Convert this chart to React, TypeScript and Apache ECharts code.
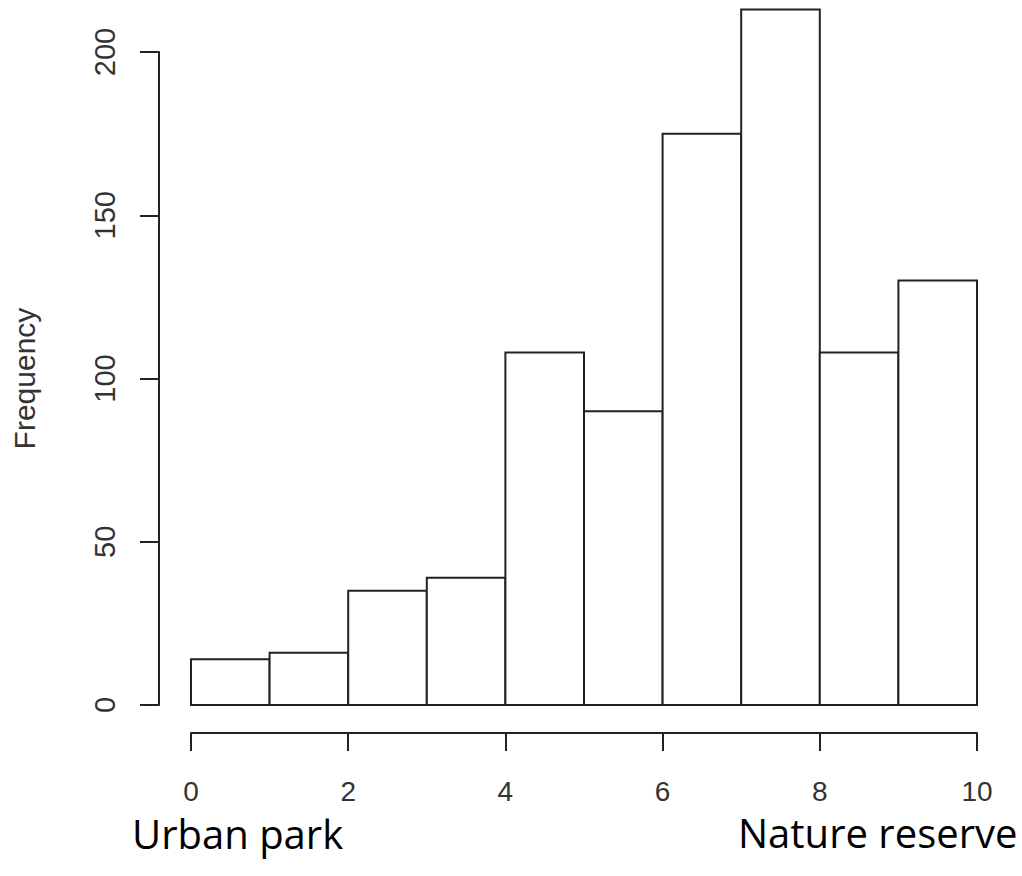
import React, { useEffect, useRef } from "react";
import * as echarts from "echarts";

const binStarts = [0, 1, 2, 3, 4, 5, 6, 7, 8, 9];
const binEnds = [1, 2, 3, 4, 5, 6, 7, 8, 9, 10];
const counts = [14, 16, 35, 39, 108, 90, 175, 213, 108, 130];
const yTicks = { min: 0, max: 200, interval: 50 };
const xTicks = { min: 0, max: 10, interval: 2 };
const yTitle = "Frequency";
const leftNote = "Urban park";
const rightNote = "Nature reserve";

export default function App() {
  const ref = useRef<HTMLDivElement>(null);
  useEffect(() => {
    if (!ref.current) return;
    const chart = echarts.init(ref.current, null, { renderer: "svg" });
    const data = binStarts.map((s, i) => [s, binEnds[i], counts[i]]);
    const ink = "#222";
    const labelColor = "#333";
    chart.setOption({
      animation: false,
      backgroundColor: "#fff",
      grid: {
        left: 191,
        right: 45,
        top: 52,
        bottom: 171,
        containLabel: false,
        outerBoundsMode: "none",
      },
      xAxis: {
        type: "value",
        min: xTicks.min,
        max: xTicks.max,
        interval: xTicks.interval,
        offset: 28,
        axisLine: { show: true, onZero: false, lineStyle: { color: ink, width: 2 } },
        axisTick: { show: true, length: 18, lineStyle: { color: ink, width: 2 } },
        axisLabel: {
          margin: 44,
          fontSize: 28,
          color: labelColor,
          fontFamily: "Liberation Sans, Arial, sans-serif",
        },
        splitLine: { show: false },
      },
      yAxis: {
        type: "value",
        min: yTicks.min,
        max: yTicks.max,
        interval: yTicks.interval,
        offset: 32,
        name: yTitle,
        nameLocation: "middle",
        nameRotate: 90,
        nameGap: 120,
        nameTextStyle: {
          fontSize: 30,
          color: labelColor,
          fontFamily: "Liberation Sans, Arial, sans-serif",
        },
        axisLine: { show: true, onZero: false, lineStyle: { color: ink, width: 2 } },
        axisTick: { show: true, length: 19, lineStyle: { color: ink, width: 2 } },
        axisLabel: {
          rotate: 90,
          margin: 40,
          fontSize: 29,
          color: labelColor,
          fontFamily: "Liberation Sans, Arial, sans-serif",
        },
        splitLine: { show: false },
      },
      series: [
        {
          type: "custom",
          clip: false,
          data,
          encode: { x: [0, 1], y: 2 },
          renderItem: (params: any, api: any) => {
            const p0 = api.coord([api.value(0), 0]);
            const p1 = api.coord([api.value(1), api.value(2)]);
            return {
              type: "rect",
              shape: {
                x: p0[0],
                y: p1[1],
                width: p1[0] - p0[0],
                height: p0[1] - p1[1],
              },
              style: { fill: "#fff", stroke: ink, lineWidth: 2 },
            };
          },
        },
      ],
      graphic: [
        {
          type: "text",
          left: 132,
          top: 813,
          style: {
            text: leftNote,
            fontSize: 40,
            fontFamily: "Open Sans, Noto Sans, sans-serif",
            fill: "#000",
          },
        },
        {
          type: "text",
          left: 738,
          top: 812,
          style: {
            text: rightNote,
            fontSize: 40,
            fontFamily: "Open Sans, Noto Sans, sans-serif",
            fill: "#000",
          },
        },
      ],
    });
    return () => chart.dispose();
  }, []);
  return (
    <div
      ref={ref}
      style={{ position: "fixed", left: 0, top: 0, width: 1022, height: 876 }}
    />
  );
}
